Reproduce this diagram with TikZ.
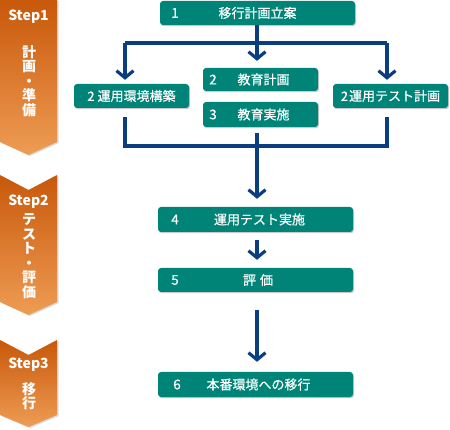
\documentclass[tikz,border=0pt]{standalone}
\usepackage{fontspec}
\setmainfont{Noto Sans CJK JP}
\newfontfamily\boxfont{Noto Sans CJK JP}[FakeBold=0.6]
\usetikzlibrary{arrows.meta,shadows}
\definecolor{teal1}{RGB}{0,132,120}
\definecolor{navy1}{RGB}{10,62,128}
\definecolor{stepTop}{RGB}{200,88,10}
\definecolor{stepBot}{RGB}{238,156,84}
\tikzset{
  box/.style={draw=none, fill=teal1, rounded corners=3pt, text=white, inner sep=0pt,
    font=\boxfont\fontsize{13}{15}\selectfont,
    drop shadow={shadow xshift=1pt, shadow yshift=-1.2pt, opacity=0.35, fill=black!60}},
  num/.style={text=white, inner sep=0pt, font=\boxfont\fontsize{13.5}{15}\selectfont},
  conn/.style={draw=navy1, line width=3.2pt},
  arr/.style={conn, -{Straight Barb[length=7pt,width=17pt]}},
  banner/.style={top color=stepTop, bottom color=stepBot,
    drop shadow={shadow xshift=1.5pt, shadow yshift=-1pt, opacity=0.3, fill=black!50}},
  steplbl/.style={text=white, inner sep=0pt, font=\bfseries\fontsize{14}{16}\selectfont},
  stepvert/.style={text=white, inner sep=0pt, align=center, font=\bfseries\fontsize{14}{14.5}\selectfont},
}
\begin{document}
\begin{tikzpicture}[x=1pt,y=-1pt]
\useasboundingbox (0,0) rectangle (450,430);
% Step banners
\path[banner] (0,0) -- (57,0) -- (57,142) -- (28.5,155) -- (0,142) -- cycle;
\path[banner] (0,175) -- (28.5,190) -- (57,175) -- (57,302) -- (28.5,315) -- (0,302) -- cycle;
\path[banner] (0,340) -- (28.5,355) -- (57,340) -- (57,415) -- (28.5,427) -- (0,415) -- cycle;
\node[steplbl] (s1) at (28.5,17) {Step1};
\node[stepvert] (s1t) at (29,81) {計\\画\\・\\準\\備};
\node[steplbl] (s2) at (28.5,202) {Step2};
\node[stepvert] (s2t) at (29,256) {テ\\ス\\ト\\・\\評\\価};
\node[steplbl] (s3) at (28.5,365) {Step3};
\node[stepvert] (s3t) at (29,396) {移\\行};
% boxes
\node[box, minimum width=195pt, minimum height=24pt] (b1) at (257.5,13) {移行計画立案};
\node[num] (n1) at (175,13) {1};
\node[box, minimum width=115pt, minimum height=24pt] (b2a) at (131.5,96) {2\hspace{3pt}運用環境構築};
\node[box, minimum width=115pt, minimum height=23pt] (b2b) at (260.5,79.5) {\hspace{6pt}教育計画};
\node[num] (n2b) at (213,79.5) {2};
\node[box, minimum width=115pt, minimum height=25pt] (b3) at (260.5,114.5) {\hspace{6pt}教育実施};
\node[num] (n3) at (213,114.5) {3};
\node[box, minimum width=115pt, minimum height=24pt] (b2c) at (390.5,96) {2\hspace{1pt}運用テスト計画};
\node[box, minimum width=195pt, minimum height=25pt] (b4) at (255.5,219.5) {\hspace{8pt}運用テスト実施};
\node[num] (n4) at (175,219.5) {4};
\node[box, minimum width=195pt, minimum height=24pt] (b5) at (255.5,280) {\hspace{5pt}評\hspace{4pt}価};
\node[num] (n5) at (175,280) {5};
\node[box, minimum width=195pt, minimum height=25pt] (b6) at (255.5,384.5) {\hspace{6pt}本番環境への移行};
\node[num] (n6) at (177,384.5) {6};
% connectors
\coordinate (sL) at (125,43);
\coordinate (sR) at (387,43);
\coordinate (sM) at (257,43);
\coordinate (mL) at (125,146);
\coordinate (mR) at (387,146);
\coordinate (mM) at (257,146);
\draw[conn] (sL) -- (sR);
\draw[arr] (b1.south -| sM) -- ([yshift=7pt]b2b.north -| sM);
\draw[arr] (sL) -- ([yshift=4pt]b2a.north -| sL);
\draw[arr] (sR) -- ([yshift=4pt]b2c.north -| sR);
\draw[conn] ([yshift=-9pt]b2a.south -| mL) -- (mL) -- (mR) -- ([yshift=-9pt]b2c.south -| mR);
\draw[arr] ([yshift=-6pt]b3.south -| mM) -- ([yshift=8pt]b4.north -| mM);
\draw[arr] ([yshift=-8pt]b4.south -| mM) -- ([yshift=8pt]b5.north -| mM);
\draw[arr] ([yshift=-18pt]b5.south -| mM) -- ([yshift=10pt]b6.north -| mM);
\end{tikzpicture}
\end{document}
